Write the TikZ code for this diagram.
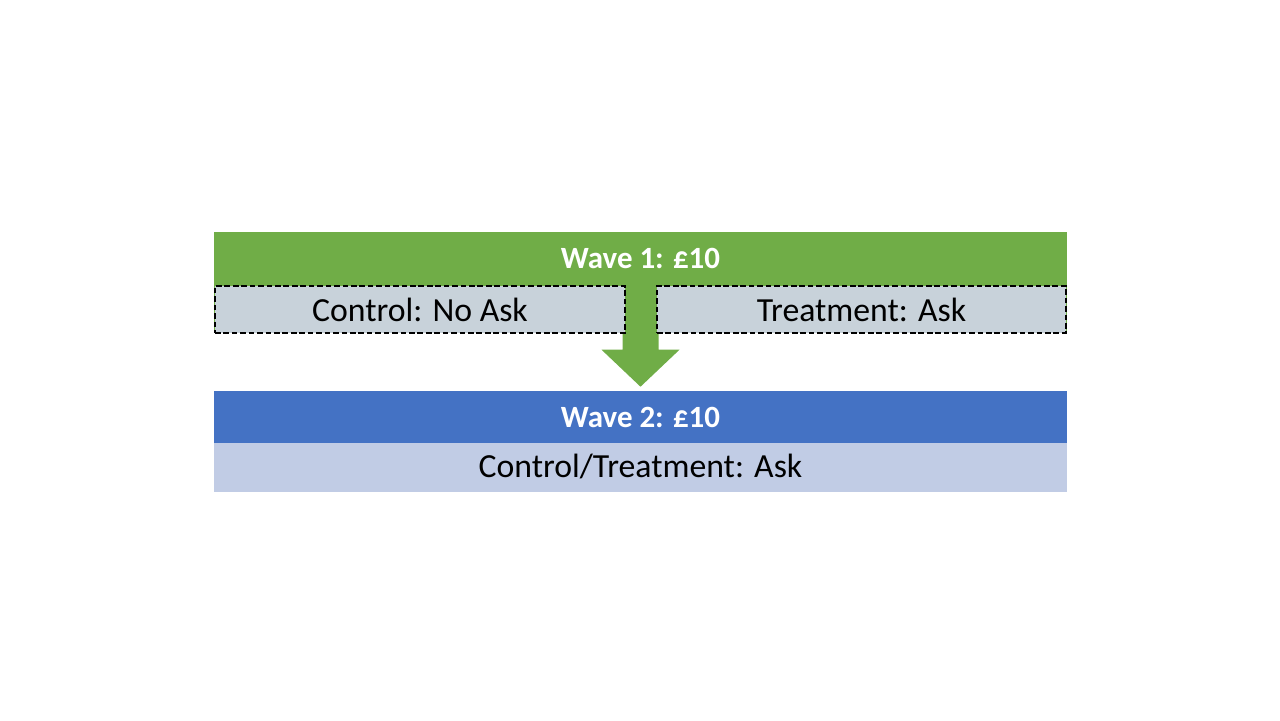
\documentclass[tikz,border=0pt]{standalone}
\usepackage{fontspec}
\setmainfont{Carlito}
\usetikzlibrary{calc,positioning}
\definecolor{wavegreen}{RGB}{112,173,71}
\definecolor{waveblue}{RGB}{68,114,196}
\definecolor{armgray}{RGB}{200,210,218}
\definecolor{asklight}{RGB}{193,204,229}
\newcommand{\bigtext}{\fontsize{24}{29}\selectfont}
\newcommand{\headtext}{\fontsize{22}{26}\selectfont}

\begin{document}
\begin{tikzpicture}[
    wavebar/.style={minimum width=21.325cm, inner sep=0pt, text=white, font=\headtext\bfseries},
    armbox/.style={fill=armgray, draw=black, line width=2pt, dash pattern=on 4pt off 2pt,
        minimum height=1.175cm, inner sep=0pt, font=\bigtext},
    askbar/.style={fill=asklight, minimum width=21.325cm, minimum height=1.25cm, inner sep=0pt, font=\bigtext}
]
    \useasboundingbox (0,0) rectangle (32,18);
    \fill[wavegreen] (5.35,9.675) rectangle (26.675,12.2);
    \node[wavebar, minimum height=1.325cm] (w1) at (16.0125,11.5375) {Wave 1: £10};
    \node[askbar] (both) at (16.0125,6.325) {Control/Treatment: Ask};
    \node[wavebar, fill=waveblue, minimum height=1.3cm] (w2) at (16.0125,7.575) {Wave 2: £10};
    % arrow from wave 1 down to wave 2
    \coordinate (tip) at ($(w2.north)+(0,0.1)$);
    \fill[wavegreen] ($(w1.south)+(-0.45,0.1)$) -- ($(w1.south)+(0.45,0.1)$)
        -- ($(tip)+(0.45,0.925)$) -- ($(tip)+(0.975,0.925)$) -- (tip)
        -- ($(tip)+(-0.975,0.925)$) -- ($(tip)+(-0.45,0.925)$) -- cycle;
    \node[armbox, minimum width=10.25cm] (ctrl) at (10.5,10.2625) {Control: No Ask};
    \node[armbox, minimum width=10.225cm] (treat) at (21.5375,10.2625) {Treatment: Ask};
\end{tikzpicture}
\end{document}
